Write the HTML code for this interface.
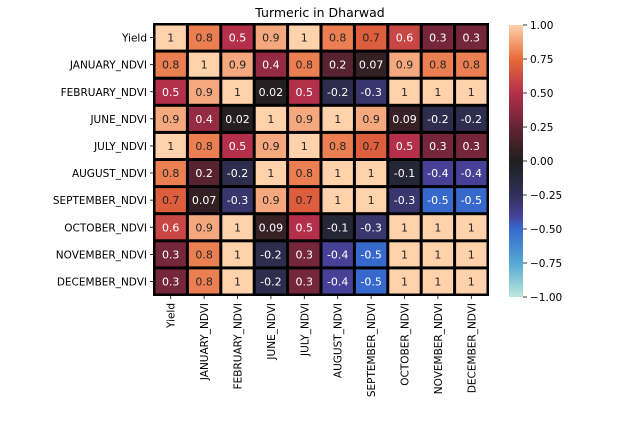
<!DOCTYPE html>
<html><head><meta charset="utf-8">
<style>
html,body{margin:0;padding:0;background:#fff;}
svg{display:block;font-family:"DejaVu Sans","Liberation Sans",sans-serif;}
</style></head>
<body>
<svg id="chart" width="621" height="432" xmlns="http://www.w3.org/2000/svg">
<defs>
<linearGradient id="cbgrad" x1="0" y1="1" x2="0" y2="0">
<stop offset="0" stop-color="#bde7db"/>
<stop offset="0.125" stop-color="#55a8d3"/>
<stop offset="0.25" stop-color="#3769cd"/>
<stop offset="0.3" stop-color="#464196"/>
<stop offset="0.375" stop-color="#323058"/>
<stop offset="0.5" stop-color="#1f1f1f"/>
<stop offset="0.625" stop-color="#652336"/>
<stop offset="0.75" stop-color="#b4304a"/>
<stop offset="0.875" stop-color="#e76a3a"/>
<stop offset="1" stop-color="#ffd2ab"/>
</linearGradient>
</defs>
<text x="320" y="17" font-size="12.5" text-anchor="middle" fill="#000">Turmeric in Dharwad</text>
<g id="cells"></g>
<g id="axes"></g>
<rect x="509" y="25" width="14" height="272" fill="url(#cbgrad)"/>
<g id="cbticks"></g>
</svg>
<script>
const labels = ["Yield","JANUARY_NDVI","FEBRUARY_NDVI","JUNE_NDVI","JULY_NDVI","AUGUST_NDVI","SEPTEMBER_NDVI","OCTOBER_NDVI","NOVEMBER_NDVI","DECEMBER_NDVI"];
const row0 = [1,0.8,0.5,0.9,1,0.8,0.7,0.6,0.3,0.3];
const row1 = [0.8,1,0.9,0.4,0.8,0.2,0.07,0.9,0.8,0.8];
const row2 = [0.5,0.9,1,0.02,0.5,-0.2,-0.3,1,1,1];
const row3 = [0.9,0.4,0.02,1,0.9,1,0.9,0.09,-0.2,-0.2];
const row4 = [1,0.8,0.5,0.9,1,0.8,0.7,0.5,0.3,0.3];
const row5 = [0.8,0.2,-0.2,1,0.8,1,1,-0.1,-0.4,-0.4];
const row6 = [0.7,0.07,-0.3,0.9,0.7,1,1,-0.3,-0.5,-0.5];
const row7 = [0.6,0.9,1,0.09,0.5,-0.1,-0.3,1,1,1];
const row8 = [0.3,0.8,1,-0.2,0.3,-0.4,-0.5,1,1,1];
const row9 = [0.3,0.8,1,-0.2,0.3,-0.4,-0.5,1,1,1];
const matrix = [row0,row1,row2,row3,row4,row5,row6,row7,row8,row9];
const cbTicks = [1,0.75,0.5,0.25,0,-0.25,-0.5,-0.75,-1];
const cbTickLabels = ["1.00","0.75","0.50","0.25","0.00","\u22120.25","\u22120.50","\u22120.75","\u22121.00"];

const NS="http://www.w3.org/2000/svg";
const L=154,T=24,W=334,H=271,n=labels.length,cw=W/n,ch=H/n;
const xPos=i=>L+i*cw, yPos=j=>T+j*ch;
const cbY=v=>25+(1-v)/2*272;
const stops=[[-1,[189,231,219]],[-0.75,[85,168,211]],[-0.5,[55,105,205]],[-0.4,[70,65,150]],[-0.25,[50,48,88]],[0,[31,31,31]],[0.25,[101,35,54]],[0.5,[180,48,74]],[0.75,[231,106,58]],[1,[255,210,171]]];
function color(v){
  for(let k=0;k<stops.length-1;k++){
    const [a,ca]=stops[k],[b,cb]=stops[k+1];
    if(v<=b||k==stops.length-2){const t=Math.max(0,Math.min(1,(v-a)/(b-a)));
      return ca.map((c,i)=>Math.round(c+(cb[i]-c)*t));}
  }
}
function mk(tag,attrs,parent){const e=document.createElementNS(NS,tag);for(const k in attrs)e.setAttribute(k,attrs[k]);parent.appendChild(e);return e;}
const cells=document.getElementById('cells'), axes=document.getElementById('axes'), cbt=document.getElementById('cbticks');
mk('rect',{x:L-1,y:T-1,width:W+2,height:H+2,fill:'#000'},cells);
matrix.forEach((row,j)=>row.forEach((v,i)=>{
  const c=color(v);
  const r=mk('rect',{x:xPos(i)+1.5,y:yPos(j)+1.5,width:cw-3,height:ch-3,fill:`rgb(${c})`},cells);
  
  
  const lum=(0.2126*c[0]+0.7152*c[1]+0.0722*c[2])/255;
  const t=mk('text',{x:xPos(i)+cw/2,y:yPos(j)+ch/2+4,'font-size':11,'text-anchor':'middle',fill:lum>0.45?'#262626':'#fff'},cells);
  t.textContent=String(v);
  
  
}));
labels.forEach((lab,k)=>{
  const y=yPos(k)+ch/2;
  mk('line',{x1:L-4,x2:L,y1:y,y2:y,stroke:'#000','stroke-width':0.8},axes);
  const t=mk('text',{x:L-7,y:y+4,'font-size':10.5,'text-anchor':'end',fill:'#000'},axes);
  t.textContent=lab;
  
  
  const x=xPos(k)+cw/2;
  mk('line',{x1:x,x2:x,y1:T+H,y2:T+H+4,stroke:'#000','stroke-width':0.8},axes);
  const tx=mk('text',{x:x+4,y:T+H+8,'font-size':10.5,'text-anchor':'end',fill:'#000',transform:`rotate(-90 ${x+4} ${T+H+8})`},axes);
  tx.textContent=lab;
  
  
});
cbTicks.forEach((v,k)=>{
  const y=cbY(v);
  mk('line',{x1:523,x2:527,y1:y,y2:y,stroke:'#000','stroke-width':0.8},cbt);
  const t=mk('text',{x:530,y:y+4,'font-size':10.5,fill:'#000'},cbt);
  t.textContent=cbTickLabels[k];
  
  
});
</script>
</body></html>
